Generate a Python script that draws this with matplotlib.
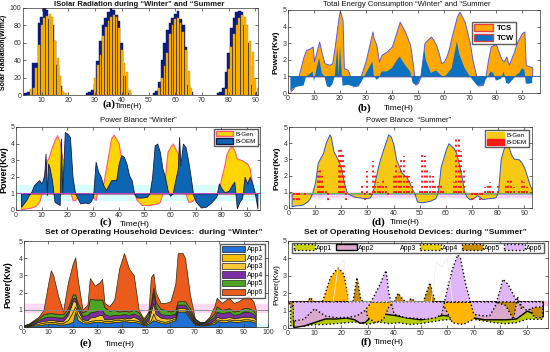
import numpy as np
import matplotlib
matplotlib.use("Agg")
import matplotlib.pyplot as plt
from matplotlib.patches import Patch

plt.rcParams['font.family'] = ['Liberation Sans', 'DejaVu Sans']

# (a) solar radiation, hourly bars
win_h = [4, 5, 6, 7, 8, 9, 10, 11, 12, 13, 14, 15, 16, 17, 18,
         27, 28, 29, 30, 31, 32, 33, 34, 35, 36, 37, 38, 39, 40, 41, 42, 43,
         52, 53, 54, 55, 56, 57, 58, 59, 60, 61, 62, 63, 64, 65, 66,
         76, 77, 78, 79, 80, 81, 82, 83, 84, 85, 86, 87, 88, 89, 90]
win_v = [2, 3, 6, 37, 37, 83, 90, 100, 98, 87, 80, 62, 35, 10, 2,
         2, 3, 6, 13, 39, 62, 80, 88, 95, 100, 98, 92, 85, 60, 22, 8, 2,
         2, 5, 15, 40, 60, 75, 83, 88, 93, 97, 87, 80, 55, 12, 3,
         2, 3, 8, 27, 48, 77, 88, 95, 97, 95, 80, 60, 35, 12, 3]
sum_h = [6, 7, 8, 9, 10, 11, 12, 13, 14, 15, 16, 17, 18, 19,
         30, 31, 32, 33, 34, 35, 36, 37, 38, 39, 40, 41, 42, 43,
         54, 55, 56, 57, 58, 59, 60, 61, 62, 63, 64, 65, 66,
         79, 80, 81, 82, 83, 84, 85, 86, 87, 88, 89, 90, 91]
sum_v = [7, 8, 31, 57, 80, 88, 91, 93, 90, 62, 43, 22, 5, 2,
         20, 35, 46, 68, 78, 85, 90, 92, 90, 77, 52, 37, 27, 6,
         8, 20, 33, 48, 70, 80, 87, 88, 83, 72, 52, 28, 8,
         7, 30, 55, 70, 80, 88, 92, 90, 80, 62, 50, 20, 8]

# (b) total energy consumption
t_b = [1, 2, 4, 6, 7, 8, 9.5, 10, 11, 12, 13, 14, 15, 16, 17, 18, 19, 19.5, 20, 21,
       21.5, 23, 24, 25, 27, 28, 30, 32.5, 33, 34, 35, 36, 38, 40, 42, 43, 45, 47, 48, 49,
       50, 51, 52.5, 53, 55, 56, 57, 58, 59, 60, 61, 62, 63, 65, 66, 67, 68, 70, 71, 72.5,
       73, 75, 76, 77, 78, 79, 80, 82, 83, 84, 85, 87, 88, 89, 90, 91, 91.5, 92, 94]
tcs = [0.12, 0.25, 1.0, 2.2, 2.6, 2.65, 2.8, 1.9, 2.5, 3.1, 2.4, 1.8, 1.75, 1.7, 1.8, 2.8, 4.0, 4.6, 4.95, 4.4,
       1.5, 1.4, 1.0, 0.4, 0.45, 1.0, 2.0, 3.7, 3.3, 2.9, 1.9, 2.3, 2.5, 2.8, 3.8, 4.3, 3.7, 2.9, 1.8, 0.5,
       0.6, 1.0, 3.0, 3.1, 3.4, 3.2, 2.9, 2.4, 1.8, 1.9, 2.2, 2.7, 3.4, 4.6, 4.9, 4.6, 4.3, 3.0, 2.0, 1.0,
       0.45, 0.48, 1.0, 2.0, 2.8, 2.9, 2.95, 2.1, 1.9, 2.2, 1.7, 2.5, 3.0, 3.3, 3.6, 3.7, 1.7, 1.65, 1.55]
tcw = [0.15, 0.3, 0.4, 0.45, 1.0, 1.1, 1.3, 0.7, 1.5, 2.1, 1.2, 1.0, 0.4, 0.35, 0.5, 1.0, 2.8, 1.0, 2.9, 0.45,
       0.45, 0.5, 0.45, 0.4, 0.45, 0.6, 1.2, 1.9, 1.1, 0.8, 0.9, 1.3, 1.3, 1.5, 2.0, 2.2, 1.7, 1.3, 0.6, 0.5,
       0.6, 1.0, 2.6, 2.0, 1.2, 1.3, 1.35, 1.2, 1.05, 1.0, 1.1, 1.3, 1.5, 3.1, 2.3, 1.9, 1.5, 1.0, 0.8, 0.5,
       0.45, 0.5, 0.8, 1.0, 1.3, 1.2, 0.75, 0.85, 1.3, 0.6, 0.55, 0.9, 1.1, 1.2, 1.5, 1.4, 0.6, 0.55, 0.6]

# (c) power balance winter
t_c = [2, 3, 4, 5, 6, 7, 8, 9, 10, 11, 11.5, 12, 12.5, 13, 14, 15, 16, 17, 17.5, 18,
       19, 20, 21, 22, 23, 24, 25, 27, 28, 29, 30, 31, 32, 33, 34, 35, 36, 37, 38, 39,
       40, 41, 42, 43, 44, 45, 46, 47, 49, 51, 52, 53, 54, 55, 56, 57, 58, 59, 60, 61,
       62, 63, 63.5, 64, 65, 66, 67, 68, 69, 70, 72, 74, 76, 78, 79, 80, 81, 82, 83, 84,
       85, 86, 87, 88, 89, 90, 91, 92, 93, 94]
gen_c = [0.05, 0.07, 0.1, 0.12, 0.15, 0.2, 0.3, 0.5, 1.0, 2.2, 2.6, 3.0, 3.1, 3.3, 3.8, 4.2, 4.5, 4.1, 3.6, 3.1,
         2.9, 1.5, 1.2, 0.6, 0.6, 0.8, 0.9, 0.9, 0.9, 0.9, 0.8, 0.6, 1.5, 1.5, 1.6, 2.5, 3.4, 4.3, 4.55, 4.3,
         4.0, 3.0, 2.0, 1.5, 1.2, 1.1, 1.0, 0.6, 0.3, 0.3, 0.3, 0.35, 0.35, 0.4, 0.5, 1.0, 2.0, 3.5, 3.8, 4.0,
         3.7, 3.4, 3.0, 2.5, 2.0, 1.0, 0.5, 0.5, 0.6, 0.8, 0.9, 0.9, 0.9, 0.9, 1.2, 2.0, 2.6, 3.4, 3.7, 3.85,
         3.6, 3.1, 3.05, 3.0, 2.9, 2.8, 2.5, 1.5, 1.0, 1.0]
oem_c = [0.2, 0.4, 0.6, 0.9, 1.1, 1.5, 1.65, 1.8, 1.6, 2.1, 3.4, 0.9, 2.8, 2.6, 1.8, 0.5, 0.4, 0.3, 4.3, 1.0,
         4.7, 4.6, 4.4, 2.0, 1.0, 0.7, 0.4, 0.45, 0.4, 0.5, 0.8, 2.9, 2.3, 2.0, 1.5, 1.2, 1.5, 1.8, 1.8, 1.8,
         2.8, 3.3, 3.2, 2.8, 2.1, 1.8, 1.0, 0.75, 0.75, 0.8, 1.0, 2.0, 3.9, 4.0, 3.5, 2.5, 2.0, 1.2, 0.85, 1.0,
         1.8, 2.5, 4.4, 2.7, 4.0, 3.8, 3.0, 2.0, 0.9, 0.5, 0.15, 0.2, 0.45, 0.8, 1.6, 1.3, 1.1, 1.1, 1.2, 1.5,
         1.7, 0.1, 0.5, 0.7, 2.0, 1.6, 2.0, 1.6, 1.0, 0.1]

# (d) power balance summer
t_d = [1, 2, 5, 7, 8, 9, 10, 11, 13, 14, 15.5, 16, 17, 19, 20, 21, 22, 23, 25, 27,
       29, 31, 32, 34, 35, 36, 38, 39, 40, 41, 43, 45, 46, 47, 48, 49, 51, 54, 56, 57,
       58, 60, 61, 62, 63, 64, 66, 67, 68, 69, 70, 72, 74, 76, 79, 80, 81, 82, 83, 84,
       85, 86, 88, 89, 90, 91, 92, 93, 94]
gen_d = [0.1, 0.15, 0.2, 0.4, 0.6, 1.0, 1.6, 2.8, 3.4, 4.0, 4.55, 4.4, 3.5, 2.9, 2.4, 1.6, 1.0, 0.85, 0.7, 0.65,
         0.6, 0.65, 1.0, 2.5, 3.1, 3.6, 4.55, 4.4, 3.9, 3.0, 2.2, 1.9, 1.6, 1.2, 0.9, 0.4, 0.35, 0.45, 0.6, 1.0,
         2.5, 3.6, 4.0, 3.85, 3.7, 3.4, 2.0, 1.0, 0.7, 0.55, 0.55, 0.8, 0.55, 0.6, 0.65, 1.0, 3.0, 3.6, 4.0, 3.8,
         3.3, 3.05, 3.0, 2.8, 2.5, 2.0, 1.5, 1.1, 0.3]
dem_t = [2, 3, 4, 6, 11, 11.5, 12, 12.5, 13, 14, 15, 19, 19.5, 20, 20.5, 21, 22, 28, 29, 30,
         31, 32, 33, 34, 35, 36, 37, 38, 40, 41, 42, 43, 44, 45, 46, 47, 48, 50, 51, 52,
         53, 54, 55, 56, 57, 58, 59, 63, 64, 65, 66, 67, 70, 71, 72, 73, 74, 75, 76, 77,
         78, 80, 83, 84, 85, 86, 88, 89, 90, 91]
dem_v = [0.3, 0.4, 0.3, 0.8, 2.3, 2.0, 2.4, 2.0, 1.5, 1.2, 0.4, 3.55, 3.0, 3.7, 3.3, 2.8, 0.5, 1.4, 0.5, 2.3,
         0.7, 2.9, 2.2, 1.6, 1.4, 1.7, 1.5, 0.8, 2.0, 2.7, 2.2, 3.1, 3.2, 2.1, 2.0, 1.6, 0.9, 1.2, 3.3, 3.2,
         2.5, 2.2, 2.0, 1.5, 1.5, 1.5, 1.2, 1.6, 4.3, 4.4, 3.5, 2.5, 0.5, 0.6, 0.8, 0.5, 0.7, 1.3, 1.4, 1.6,
         1.2, 1.5, 1.5, 1.8, 1.8, 1.3, 1.2, 1.8, 1.6, 1.3]

# (e) household devices winter (stacked)
t_e = [0, 2, 4, 6, 8, 10, 11, 12, 14, 16, 18, 20, 21, 22, 24, 26, 27, 29, 31, 32,
       33, 35, 37, 39, 41, 43, 45, 47, 49, 51, 52, 53, 54, 56, 58, 60, 62, 63, 65, 66,
       68, 70, 72, 74, 76, 78, 79, 81, 83, 84, 86, 88, 90, 92, 94, 95]
app1_w = [0.02, 0.05, 0.1, 0.1, 0.15, 0.2, 0.2, 0.2, 0.15, 0.15, 0.2, 0.3, 0.9, 0.4, 0.25, 0.2, 0.25, 0.3, 0.3, 0.3,
          0.25, 0.25, 0.3, 0.3, 0.35, 0.3, 0.3, 0.25, 0.1, 0.2, 0.3, 0.4, 0.35, 0.25, 0.2, 0.3, 0.4, 0.9, 0.9, 0.9,
          0.5, 0.15, 0.1, 0.1, 0.15, 0.2, 0.35, 0.3, 0.3, 0.35, 0.3, 0.3, 0.35, 0.35, 0.3, 0.25]
app2_w = [0.02, 0.03, 0.05, 0.1, 0.1, 0.1, 0.1, 0.1, 0.1, 0.1, 0.2, 0.6, 0.3, 0.3, 0.1, 0.1, 0.1, 0.1, 0.1, 0.1,
          0.1, 0.1, 0.1, 0.1, 0.1, 0.1, 0.1, 0.1, 0.05, 0.1, 0.1, 0.4, 0.1, 0.1, 0.1, 0.1, 0.1, 0.1, 0.1, 0.1,
          0.1, 0.05, 0.03, 0.03, 0.05, 0.1, 0.1, 0.1, 0.1, 0.1, 0.1, 0.1, 0.1, 0.1, 0.1, 0.1]
app3_w = [0.02, 0.03, 0.05, 0.1, 0.1, 0.1, 0.1, 0.1, 0.1, 0.1, 0.3, 0.6, 0.3, 0.3, 0.1, 0.1, 0.2, 0.2, 0.3, 0.3,
          0.1, 0.1, 0.1, 0.1, 0.1, 0.1, 0.2, 0.1, 0.05, 0.1, 0.5, 0.6, 0.3, 0.2, 0.2, 0.1, 0.1, 0.1, 0.1, 0.1,
          0.1, 0.05, 0.03, 0.03, 0.05, 0.1, 0.15, 0.1, 0.15, 0.15, 0.1, 0.15, 0.15, 0.15, 0.15, 0.1]
app4_w = [0.02, 0.04, 0.1, 0.1, 0.2, 0.2, 0.2, 0.2, 0.2, 0.2, 0.2, 0.2, 0.2, 0.2, 0.2, 0.3, 0.3, 0.3, 0.3, 0.3,
          0.3, 0.2, 0.2, 0.2, 0.2, 0.2, 0.2, 0.2, 0.1, 0.2, 0.3, 0.6, 0.4, 0.2, 0.2, 0.2, 0.2, 0.2, 0.2, 0.2,
          0.2, 0.1, 0.07, 0.07, 0.15, 0.2, 0.3, 0.3, 0.3, 0.3, 0.2, 0.2, 0.3, 0.3, 0.2, 0.15]
app5_w = [0.01, 0.03, 0.05, 0.1, 0.2, 0.2, 0.2, 0.2, 0.2, 0.2, 0.2, 0.2, 0.2, 0.2, 0.2, 0.3, 0.8, 0.7, 0.6, 0.6,
          0.4, 0.3, 0.3, 0.2, 0.2, 0.2, 0.2, 0.2, 0.1, 0.2, 0.2, 0.3, 0.3, 0.3, 0.3, 0.2, 0.2, 0.2, 0.2, 0.2,
          0.2, 0.1, 0.04, 0.04, 0.1, 0.2, 0.3, 0.2, 0.2, 0.2, 0.2, 0.2, 0.2, 0.2, 0.2, 0.15]
app6_w = [0.01, 0.02, 0.05, 0.1, 0.25, 1.8, 2.5, 2.2, 1.05, 0.15, 1.5, 1.8, 2.15, 1.4, 0.15, 0.3, 1.2, 0.8, 1.0, 1.2,
          0.25, 0.25, 0.6, 2.5, 3.35, 2.5, 2.0, 0.15, 0.1, 0.1, 1.5, 0.8, 0.55, 0.35, 0.4, 0.6, 1.5, 2.8, 2.8, 2.5,
          0.8, 0.05, 0.03, 0.03, 0.1, 0.4, 0.5, 0.4, 0.55, 0.6, 0.5, 0.55, 0.6, 0.7, 0.55, 0.25]

# (f) household devices summer (overlapping areas, base 1.5)
t1_s = [1, 2, 6, 10, 14, 18, 22, 26, 30, 34, 38, 42, 46, 50, 54, 58, 62, 66, 70, 74, 78, 82, 86, 90, 94, 96]
app1_s = [0.1, 0.1, 0.1, 0.2, 0.2, 0.25, 0.3, 0.35, 0.2, 0.35, 0.25, 0.3, 0.2, 0.25, 0.35, 0.45, 0.5, 0.5, 0.5, 0.4,
          0.3, 0.25, 0.3, 0.5, 0.5, 0.5]
t2_s = [2, 6, 10, 14, 18, 22, 25, 27, 29, 32, 35, 40, 45, 50, 55, 58, 62, 66, 70, 74, 78, 82, 86, 90, 93, 96]
app2_s = [0.05, 0.15, 0.35, 0.55, 0.55, 0.6, 0.5, 0.3, 0.35, 0.8, 0.85, 0.75, 0.6, 0.5, 0.65, 0.75, 0.7, 0.65, 0.6, 0.5,
          0.5, 0.5, 0.55, 1.0, 0.8, 0.7]
t3_s = [17, 19, 21, 23, 54, 56, 58, 60, 62]
app3_s = [1.5, 3.6, 3.9, 1.5, 1.5, 3.8, 3.5, 4.0, 1.5]
t4_s = [0, 13, 16, 18, 19, 21, 22, 23, 29, 30, 33, 36, 38, 40, 58, 60, 62, 66, 70, 72, 75, 96]
app4_s = [1.5, 1.5, 2.9, 3.3, 3.45, 3.1, 2.4, 1.5, 1.5, 0.6, 0.3, 0.5, 1.2, 1.5, 1.5, 0.9, 0.3, 0.2, 0.5, 1.2, 1.5, 1.5]
t5_s = [0, 4, 8.5, 13, 15, 23, 24.5, 26, 27.5, 29, 40, 41.5, 43.5, 45, 46.5, 48, 51, 53.5, 55.5, 58,
        78, 82, 85, 86.5, 88, 90, 93, 96]
app5_s = [1.5, 0.9, 1.75, 0.9, 1.5, 1.5, 1.5, 2.9, 1.6, 1.5, 1.5, 2.0, 1.6, 1.5, 1.7, 1.5, 1.5, 2.6, 1.5, 1.5,
          1.5, 1.3, 0.5, 1.8, 1.1, 1.4, 0.6, 0.6]
t6_s = [2, 6, 10, 14, 18, 22, 26, 29, 31, 33, 35, 36, 37, 38, 40, 44, 48, 52, 56, 58,
        60, 62, 64, 65, 67, 70, 73, 76, 78, 80, 81, 83, 86, 88, 90, 93, 96]
app6_s = [0.4, 0.5, 1.1, 0.7, 0.6, 0.6, 0.7, 1.0, 1.4, 2.0, 2.6, 3.0, 3.3, 2.0, 0.8, 0.6, 0.55, 0.5, 0.6, 0.8,
          2.2, 3.4, 4.2, 4.0, 2.5, 0.8, 0.7, 0.7, 1.2, 2.2, 2.8, 2.5, 1.6, 1.3, 1.0, 1.2, 1.2]

W, H = 550, 352


def box(l, t, r, b):
    return [l / W, 1 - b / H, (r - l) / W, (b - t) / H]


def ftext(x, y, s, **kw):
    fig.text(x / W, 1 - y / H, s, ha='center', va='center', **kw)


def style(ax):
    ax.tick_params(direction='in', length=2, width=0.5, labelsize=5, colors='#333333',
                   top=True, right=True, pad=1.2)
    for sp in ax.spines.values():
        sp.set_linewidth(0.5)
        sp.set_color('#333333')


fig = plt.figure(figsize=(5.5, 3.52), dpi=100)
tfont = dict(fontsize=5.5, fontweight='bold', color='#111111')
lab = dict(family=['Liberation Serif', 'DejaVu Serif'], fontsize=8, fontweight='bold')

# ---- (a)
ax = fig.add_axes(box(23, 8, 258, 95))
ax.bar(win_h, win_v, width=1.0, color='#0b1f8f', edgecolor='#050f50', linewidth=0.3)
ax.bar(sum_h, sum_v, width=0.7, color='#ffb400', edgecolor='#e09000', linewidth=0.3)
ax.set_xlim(3, 91)
ax.set_ylim(0, 100)
ax.set_xticks(range(10, 91, 10))
ax.set_yticks(range(0, 101, 20))
style(ax)
ftext(139, 5, 'ISolar Radiation during \u201cWinter\u201d and \u201cSummer', **tfont)
ftext(4, 52, 'Solar Radiation(W/m2)', rotation=90, fontsize=5, fontweight='bold')
ftext(109, 104, '(a)', **lab)
ftext(128, 107, 'Time(H)', fontsize=5.5)

# ---- (b)
ax = fig.add_axes(box(288, 10, 540, 93))
ax.fill_between(t_b, 1, tcs, color='#ffa800', edgecolor='#5b5be6', linewidth=0.7)
ax.fill_between(t_b, 1, tcw, color='#0a72c0', edgecolor='none')
ax.axhline(1, color='#3060a0', linewidth=0.6)
ax.set_xlim(0, 97)
ax.set_ylim(0, 5)
ax.set_xticks(range(0, 91, 10))
style(ax)
ax.legend(handles=[Patch(facecolor='#ffa800', edgecolor='#e04040', label='TCS'),
                   Patch(facecolor='#0a72c0', edgecolor='#e04040', label='TCW')],
          loc='upper right', bbox_to_anchor=(0.92, 0.9), frameon=True,
          fancybox=False, edgecolor='#333333', handlelength=2.4, handleheight=1.0,
          borderpad=0.3, labelspacing=0.2, handletextpad=0.5, prop={'weight': 'bold', 'size': 5.5})
ftext(407, 5, 'Total Energy Consumption \u201cWinter\u201d and \u201cSummer', fontsize=5.5, color='#111111')
ftext(276, 52, 'Power(Kw)', rotation=90, fontsize=6, fontweight='bold')
ftext(364, 108, '(b)', **lab)
ftext(399, 108, 'Time(H)', fontsize=6)

# ---- (c)
ax = fig.add_axes(box(16, 127, 260, 210))
ax.axhspan(0.6, 1.5, color='#d8ffff', zorder=0)
ax.fill_between(t_c, 1, gen_c, color='#ffd500', edgecolor='#ff5c7a', linewidth=0.8)
ax.fill_between(t_c, 1, oem_c, color='#0d66b3', edgecolor='#1a1a40', linewidth=0.6)
ax.axhline(1, color='#d040c0', linewidth=0.7)
ax.set_xlim(0, 95)
ax.set_ylim(0, 5)
ax.set_xticks(range(0, 91, 10))
style(ax)
ax.legend(handles=[Patch(facecolor='#ffd500', edgecolor='#ff5c7a', label='B-Gen'),
                   Patch(facecolor='#0d66b3', edgecolor='#1a1a40', label='B-OEM')],
          loc='upper right', fontsize=4.5, frameon=True, fancybox=False, edgecolor='#333333',
          handlelength=2.8, handleheight=1.0, borderpad=0.3, labelspacing=0.2, handletextpad=0.4,
          borderaxespad=0.3)
ftext(138, 121, 'Power Blance \u201cWinter\u201d', fontsize=5.5, color='#111111')
ftext(4, 170, 'Power(Kw)', rotation=90, fontsize=6.5, fontweight='bold')
ftext(106, 222, '(c)', **lab)
ftext(135, 225, 'Time(H)', fontsize=6)

# ---- (d)
ax = fig.add_axes(box(289, 127, 532, 208))
ax.axhspan(0.65, 1.0, color='#ffd6f2', zorder=0)
ax.fill_between(t_d, 0.9, gen_d, color='#f7c814', edgecolor='#2f55c8', linewidth=0.7)
ax.axhline(0.9, color='#70c040', linewidth=0.6)
ax.vlines(dem_t, 0.9, dem_v, colors='#ff1a1a', linestyles=':', linewidth=1.4)
ax.set_xlim(0, 93)
ax.set_ylim(0, 5)
ax.set_xticks(range(0, 91, 10))
style(ax)
ax.legend(handles=[Patch(facecolor='#f7c814', edgecolor='#f7c814', label='B-Gen'),
                   Patch(facecolor='#ff1a1a', edgecolor='#ff1a1a', label='B-DEM')],
          loc='upper right', fontsize=4.5, frameon=True, fancybox=False, edgecolor='#333333',
          handlelength=2.8, handleheight=1.0, borderpad=0.3, labelspacing=0.2, handletextpad=0.4,
          borderaxespad=0.5)
ftext(409, 121, 'Power Blance  \u201cSummer\u201d', fontsize=5.5, color='#111111')
ftext(277, 168, 'Power(Kw)', rotation=90, fontsize=6, fontweight='bold')
ftext(378, 222, '(d)', **lab)
ftext(405, 223, 'Time(H)', fontsize=6)

# ---- (e)
ax = fig.add_axes(box(24, 241, 268, 327))
ax.axhspan(0.85, 1.35, color='#ffd8f4', zorder=0)
ax.axhspan(0.0, 0.15, color='#d8ffff', zorder=0)
cols_w = ['#1f6fd6', '#f0c000', '#ffc838', '#7b2fa3', '#4fa322', '#ea5b1c']
ax.stackplot(t_e, app1_w, app2_w, app3_w, app4_w, app5_w, app6_w, colors=cols_w,
             edgecolor='#2a2a10', linewidth=0.5)
ax.axhline(1.0, color='#888888', linewidth=0.6)
ax.set_xlim(0, 100)
ax.set_ylim(0, 5)
ax.set_xticks(range(0, 101, 10))
style(ax)
ax.legend(handles=[Patch(facecolor=c, edgecolor='#222222', linewidth=0.5, label='App%d' % (i + 1))
                   for i, c in enumerate(cols_w)],
          loc='upper right', fontsize=5, frameon=True, fancybox=False, edgecolor='#333333',
          handlelength=3.2, handleheight=1.0, borderpad=0.3, labelspacing=0.15, handletextpad=0.3,
          borderaxespad=0.4)
ftext(154, 233, 'Set of Operating Household Devices:  during \u201cWinter\u201d', fontsize=6,
      fontweight='bold', color='#111111')
ftext(8, 285, 'Power(Kw)', rotation=90, fontsize=6.5, fontweight='bold')
ftext(86, 343, '(e)', **lab)
ftext(120, 344, 'Time(H)', fontsize=6)

# ---- (f)
ax = fig.add_axes(box(288, 241, 548, 328))
ax.axhspan(1.3, 1.55, color='#ffc8e0', zorder=0)
cols_s = ['#b7c900', '#d9a8cc', 'none', '#ffb600', '#c98c08', '#dfb6f7']
ax.fill_between(t1_s, 1.5, app1_s, color=cols_s[0], edgecolor='k', linestyle=':', linewidth=1.0)
ax.fill_between(t2_s, 1.5, app2_s, color=cols_s[1], edgecolor='k', linewidth=1.0)
ax.plot(t3_s, app3_s, color='#eeeeee', linewidth=0.6)
ax.fill_between(t4_s, 1.5, app4_s, color=cols_s[3], edgecolor='k', linestyle=':', linewidth=1.0)
ax.fill_between(t5_s, 1.5, app5_s, color=cols_s[4], edgecolor='k', linestyle=':', linewidth=1.0)
ax.fill_between(t6_s, 1.5, app6_s, color=cols_s[5], edgecolor='k', linestyle=':', linewidth=1.0)
ax.set_xlim(0, 98)
ax.set_ylim(0, 5)
ax.set_xticks(range(0, 91, 10))
style(ax)
hs = [Patch(facecolor='#c8d400', edgecolor='k', linestyle=':', label='App1'),
      Patch(facecolor=cols_s[1], edgecolor='k', label='App2'),
      Patch(facecolor='none', edgecolor='none', label='App3'),
      Patch(facecolor='#e8d000', edgecolor='k', linestyle=':', label='App4'),
      Patch(facecolor=cols_s[4], edgecolor='k', linestyle=':', label='App5'),
      Patch(facecolor=cols_s[5], edgecolor='k', linestyle=':', label='App6')]
ax.legend(handles=hs, loc='upper center', ncol=6, fontsize=5, frameon=True, fancybox=False,
          edgecolor='#333333', handlelength=3.0, handleheight=0.9, borderpad=0.25,
          columnspacing=0.5, handletextpad=0.2, borderaxespad=0.25)
ftext(415, 233, 'Set of Operating Household Devices: during \u201cSummer\u201d', fontsize=6,
      fontweight='bold', color='#111111')
ftext(277, 285, 'Power(Kw)', rotation=90, fontsize=6)
ftext(366, 342, '(f)', **lab)
ftext(389, 343, 'Time(H)', fontsize=6)

fig.savefig('out.png', dpi=100)
